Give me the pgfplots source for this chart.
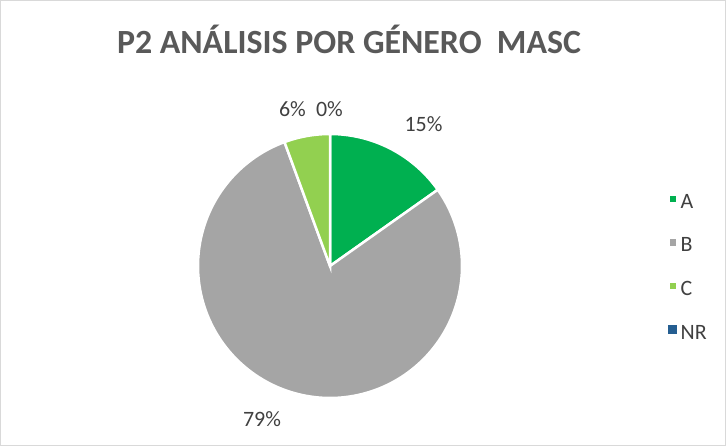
\documentclass[border=0pt]{standalone}
\usepackage{pgfplots}
\pgfplotsset{compat=1.18}
\usepackage{fontspec}
\setmainfont{Carlito}
\definecolor{cA}{HTML}{00B050}
\definecolor{cB}{HTML}{A5A5A5}
\definecolor{cC}{HTML}{92D050}
\definecolor{cNR}{HTML}{255E91}
\definecolor{titlec}{HTML}{595959}
\definecolor{labc}{HTML}{404040}
\definecolor{framec}{HTML}{D9D9D9}
% data (percent)
\def\vA{15.2}
\def\vB{79.2}
\def\vC{5.6}
\def\vNR{0}
\pgfmathsetmacro{\aA}{90}
\pgfmathsetmacro{\aB}{90-3.6*\vA}
\pgfmathsetmacro{\aC}{\aB-3.6*\vB}
\pgfmathsetmacro{\aNR}{\aC-3.6*\vC}
\pgfmathsetmacro{\aEnd}{\aNR-3.6*\vNR}
\begin{document}
\begin{tikzpicture}
\begin{axis}[
  x=1bp, y=1bp, xmin=0, xmax=726, ymin=0, ymax=446,
  hide axis, scale only axis, clip=false,
  legend style={at={(axis cs:664,256)}, anchor=north west, draw=none, fill=none,
    nodes={font=\fontsize{22}{24}\selectfont, text=labc},
    row sep=24bp,
    /tikz/every even column/.append style={column sep=0bp}},
  legend image code/.code={\fill[#1] (0bp,-1.5bp) rectangle (9bp,7.5bp);},
  legend cell align=left,
]
\addplot[fill=cA, draw=white, line width=2.5bp, domain=\aA:\aB, samples=60, variable=\t]
  ({330+132*cos(t)},{180+132*sin(t)}) -- (axis cs:330,180) -- cycle;
\addlegendentry{A}
\addplot[fill=cB, draw=white, line width=2.5bp, domain=\aB:\aC, samples=200, variable=\t]
  ({330+132*cos(t)},{180+132*sin(t)}) -- (axis cs:330,180) -- cycle;
\addlegendentry{B}
\addplot[fill=cC, draw=white, line width=2.5bp, domain=\aC:\aNR, samples=30, variable=\t]
  ({330+132*cos(t)},{180+132*sin(t)}) -- (axis cs:330,180) -- cycle;
\addlegendentry{C}
\addlegendimage{fill=cNR, draw=none}
\addlegendentry{NR}
\node[anchor=base, font=\fontsize{34}{40}\selectfont\bfseries, text=titlec] at (axis cs:349,392) {P2 ANÁLISIS POR GÉNERO\ \ MASC};
\node[anchor=base, font=\fontsize{22}{26}\selectfont, text=labc] at (axis cs:423.5,314) {15\%};
\node[anchor=base, font=\fontsize{22}{26}\selectfont, text=labc] at (axis cs:262,19) {79\%};
\node[anchor=base, font=\fontsize{22}{26}\selectfont, text=labc] at (axis cs:292.5,329) {6\%};
\node[anchor=base, font=\fontsize{22}{26}\selectfont, text=labc] at (axis cs:329.5,329) {0\%};
\draw[framec, line width=1bp] (axis cs:0.5,0.5) rectangle (axis cs:725.5,445.5);
\end{axis}
\end{tikzpicture}
\end{document}
